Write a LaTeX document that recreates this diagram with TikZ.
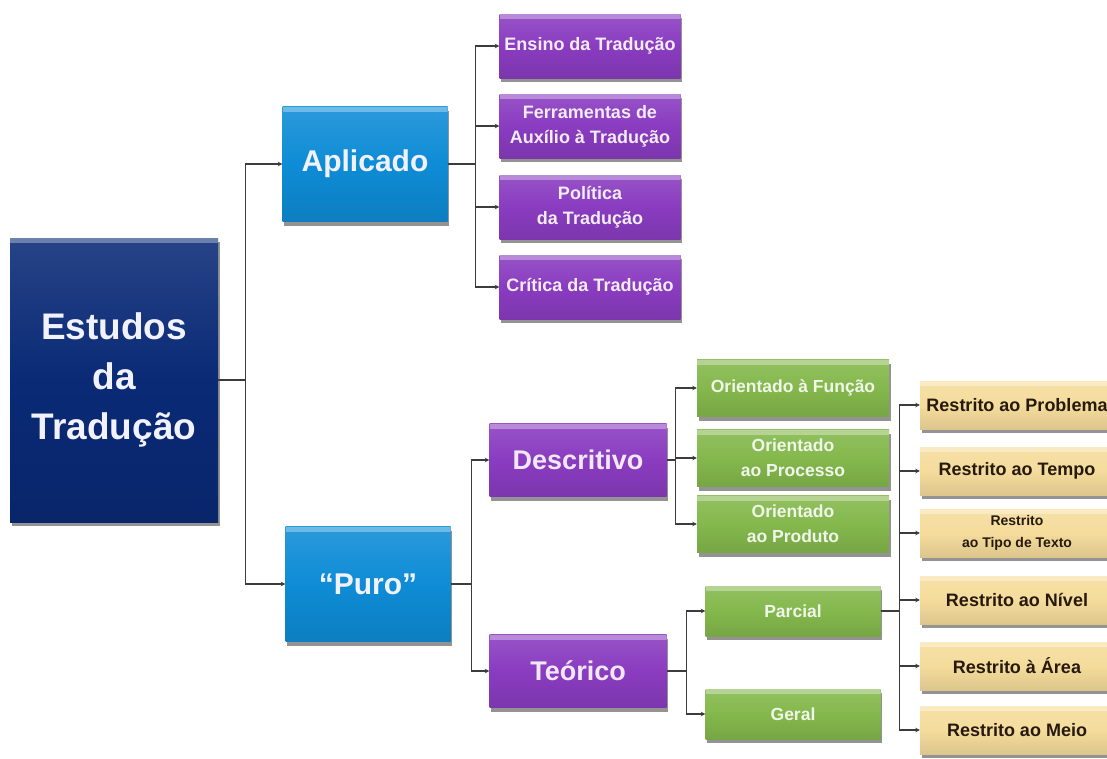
\documentclass[tikz,border=0pt]{standalone}
\usepackage{fontspec}
\setmainfont{Liberation Sans}
\usetikzlibrary{arrows.meta, positioning, shadows}
\definecolor{navy}{RGB}{10,42,118}
\definecolor{azul}{RGB}{14,140,214}
\definecolor{roxo}{RGB}{138,60,192}
\definecolor{verde}{RGB}{132,184,76}
\definecolor{bege}{RGB}{245,220,156}
\definecolor{linha}{RGB}{60,60,60}

\begin{document}
\begin{tikzpicture}[x=1pt, y=-1pt,
  box/.style={rectangle, align=center, inner sep=1pt, top color=#1!88!white, bottom color=#1!90!black, middle color=#1,
    drop shadow={shadow xshift=1.5pt, shadow yshift=-4pt, fill=black!70, opacity=.6},
    path picture={\fill[#1!60!white] (path picture bounding box.north west) rectangle ([yshift=-5pt]path picture bounding box.north east);}},
  raiz/.style={box=navy, minimum width=208pt, minimum height=284pt, text=blue!5!white, font=\fontsize{37}{50}\selectfont\bfseries},
  ramo/.style={box=azul, minimum width=165pt, minimum height=115pt, text=blue!5!white, font=\fontsize{30}{36}\selectfont\bfseries},
  tipo/.style={box=roxo, minimum width=177pt, minimum height=73pt, text=roxo!12!white, font=\fontsize{27}{32}\selectfont\bfseries},
  folha/.style={box=roxo, minimum width=181pt, minimum height=64pt, text=roxo!10!white, font=\fontsize{18}{25}\selectfont\bfseries},
  orient/.style={box=verde, minimum width=192pt, minimum height=57pt, text=verde!12!white, font=\fontsize{17.5}{25}\selectfont\bfseries},
  restrito/.style={box=bege, minimum width=194pt, minimum height=48pt, text=black!80!brown, font=\fontsize{18}{23}\selectfont\bfseries},
  conn/.style={draw=linha, line width=1.1pt, -{Stealth[length=4.5pt, width=4.5pt]}},
]
\fill[white] (0,0) rectangle (1107,758);
\useasboundingbox (0,0) rectangle (1107,758);

% raiz e ramos
\node[raiz] (estudos) at (114,380) {Estudos\\da\\Tradução};
\node[ramo] (aplicado) at (365,164) {Aplicado};
\node[ramo] (puro) at (368,584) {“Puro”};

% aplicado
\node[folha] (ensino) at (590,46) {Ensino da Tradução};
\node[folha] (ferramentas) at (590,126) {Ferramentas de\\Auxílio à Tradução};
\node[folha] (politica) at (590,207) {Política\\da Tradução};
\node[folha] (critica) at (590,287) {Crítica da Tradução};

% puro
\node[tipo] (descritivo) at (578,460) {Descritivo};
\node[tipo] (teorico) at (578,671) {Teórico};
\node[orient] (funcao) at (793,388) {Orientado à Função};
\node[orient] (processo) at (793,458) {Orientado\\ao Processo};
\node[orient] (produto) at (793,524) {Orientado\\ao Produto};
\node[orient, minimum width=175pt, minimum height=50pt] (parcial) at (793,611) {Parcial};
\node[orient, minimum width=175pt, minimum height=50pt] (geral) at (793,714) {Geral};

% restritos
\node[restrito] (problema) at (1017,405) {Restrito ao Problema};
\node[restrito] (tempo) at (1017,471) {Restrito ao Tempo};
\node[restrito, font=\fontsize{14}{22}\selectfont\bfseries] (textotipo) at (1017,533) {Restrito\\ao Tipo de Texto};
\node[restrito] (nivel) at (1017,600) {Restrito ao Nível};
\node[restrito] (area) at (1017,666) {Restrito à Área};
\node[restrito] (meio) at (1017,730) {Restrito ao Meio};

\draw[conn] (estudos.east) -- ++(27,0) |- (aplicado.west);
\draw[conn] (estudos.east) -- ++(27,0) |- (puro.west);
\draw[conn] (aplicado.east) -- ++(28,0) |- (ensino.west);
\draw[conn] (aplicado.east) -- ++(28,0) |- (ferramentas.west);
\draw[conn] (aplicado.east) -- ++(28,0) |- (politica.west);
\draw[conn] (aplicado.east) -- ++(28,0) |- (critica.west);
\draw[conn] (puro.east) -- ++(21,0) |- (descritivo.west);
\draw[conn] (puro.east) -- ++(21,0) |- (teorico.west);
\draw[conn] (descritivo.east) -- ++(9,0) |- (funcao.west);
\draw[conn] (descritivo.east) -- ++(9,0) |- (processo.west);
\draw[conn] (descritivo.east) -- ++(9,0) |- (produto.west);
\draw[conn] (teorico.east) -- ++(20,0) |- (parcial.west);
\draw[conn] (teorico.east) -- ++(20,0) |- (geral.west);
\draw[conn] (parcial.east) -- ++(19,0) |- (problema.west);
\draw[conn] (parcial.east) -- ++(19,0) |- (tempo.west);
\draw[conn] (parcial.east) -- ++(19,0) |- (textotipo.west);
\draw[conn] (parcial.east) -- ++(19,0) |- (nivel.west);
\draw[conn] (parcial.east) -- ++(19,0) |- (area.west);
\draw[conn] (parcial.east) -- ++(19,0) |- (meio.west);

\end{tikzpicture}
\end{document}
